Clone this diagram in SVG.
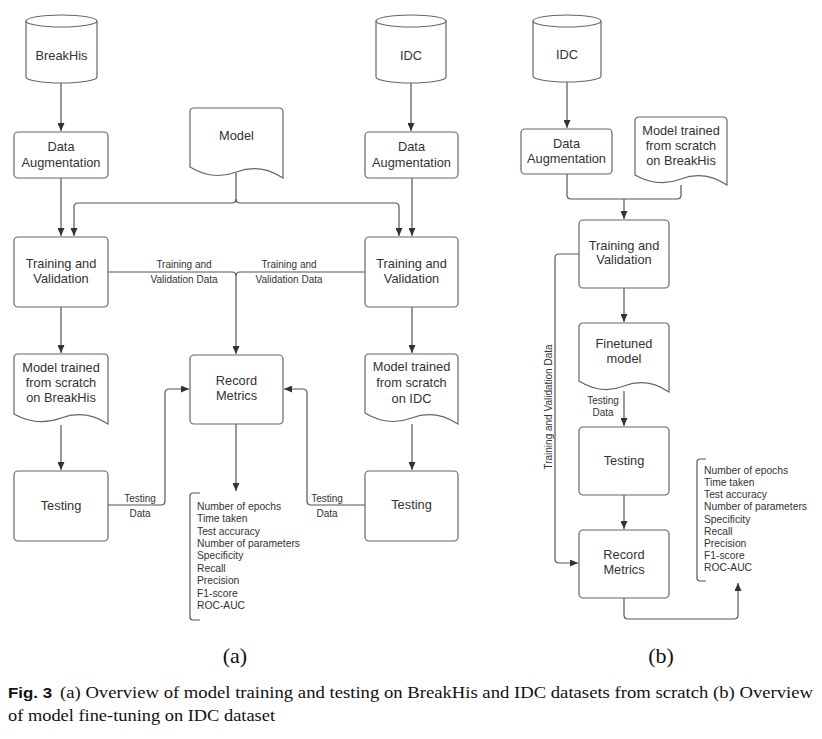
<svg xmlns="http://www.w3.org/2000/svg" width="822" height="739" viewBox="0 0 822 739">
<defs>
<marker id="ah" markerWidth="8" markerHeight="7" refX="8" refY="3.5" orient="auto" markerUnits="userSpaceOnUse"><path d="M0,0 L8,3.5 L0,7 z" fill="#333"/></marker>
<style>
.n{fill:#fff;stroke:#666;stroke-width:1.2}
.t{font-family:"Liberation Sans",Arial,sans-serif;font-size:12.8px;fill:#333;text-anchor:middle}
.l{font-family:"Liberation Sans",Arial,sans-serif;font-size:10px;fill:#333;text-anchor:middle}
.li{font-family:"Liberation Sans",Arial,sans-serif;font-size:10.3px;fill:#333}
.c{fill:none;stroke:#555;stroke-width:1.2}
.a{marker-end:url(#ah)}
.cap{font-family:"Liberation Serif","Times New Roman",serif;fill:#111}
</style>
</defs>
<rect width="822" height="739" fill="#fff"/>

<g id="connectors">
<path class="c a" d="M61,83 V131"/>
<path class="c a" d="M61,178 V236"/>
<path class="c a" d="M236,173 V199 Q236,203 232,203 H78 Q74,203 74,207 V236"/>
<path class="c a" d="M236,199 Q236,203 240,203 H395 Q399,203 399,207 V236"/>
<path class="c a" d="M411,83 V131"/>
<path class="c a" d="M412,178 V236"/>
<path class="c a" d="M108,272 H232 Q236,272 236,276 V354"/>
<path class="c" d="M365,272 H240 Q236,272 236,276"/>
<path class="c a" d="M61,307 V353"/>
<path class="c a" d="M61,425 V470"/>
<path class="c a" d="M412,307 V353"/>
<path class="c a" d="M412,424 V470"/>
<path class="c a" d="M108,505 H161 Q165,505 165,501 V393 Q165,389 169,389 H189"/>
<path class="c a" d="M365,505 H311 Q307,505 307,501 V393 Q307,389 303,389 H284"/>
<path class="c a" d="M236,424 V491"/>
<path class="c" d="M200,493 H193 Q190,493 190,496 V617 Q190,620 193,620 H200"/>

<path class="c a" d="M567,82 V128"/>
<path class="c" d="M567,174 V195 Q567,199 571,199 H624"/>
<path class="c" d="M681,185 V195 Q681,199 677,199 H624"/>
<path class="c a" d="M624,199 V219"/>
<path class="c a" d="M624,288 V322"/>
<path class="c a" d="M624,391 V426"/>
<path class="c a" d="M624,495 V529"/>
<path class="c a" d="M579,254 H559 Q555,254 555,258 V559 Q555,563 559,563 H578"/>
<path class="c a" d="M624,598 V615 Q624,619 628,619 H734 Q738,619 738,615 V583"/>
<path class="c" d="M706,459 H700 Q697,459 697,462 V578 Q697,581 700,581 H706"/>

<text class="l" x="184" y="267.5">Training and</text>
<text class="l" x="184" y="282.5">Validation Data</text>
<text class="l" x="289" y="267.5">Training and</text>
<text class="l" x="289" y="282.5">Validation Data</text>
<text class="l" x="140" y="501.5">Testing</text>
<text class="l" x="140" y="516.5">Data</text>
<text class="l" x="327" y="501.5">Testing</text>
<text class="l" x="327" y="516.5">Data</text>
<text class="l" x="603" y="403.5">Testing</text>
<text class="l" x="603" y="415.5">Data</text>
<text class="l" x="551.5" y="407" transform="rotate(-90 551.5 407)">Training and Validation Data</text>
</g>

<g id="breakhis">
<path class="n" d="M26,21 A35.5,6 0 0 1 97,21 V77 A35.5,6 0 0 1 26,77 Z"/>
<path class="c" style="stroke:#666" d="M26,21 A35.5,6 0 0 0 97,21"/>
<text class="t" x="61.5" y="59.5">BreakHis</text>
</g>
<g id="idc-a">
<path class="n" d="M376,21 A35,6 0 0 1 446,21 V77 A35,6 0 0 1 376,77 Z"/>
<path class="c" style="stroke:#666" d="M376,21 A35,6 0 0 0 446,21"/>
<text class="t" x="411" y="59.5">IDC</text>
</g>
<g id="da-left">
<rect class="n" x="14" y="132" width="94" height="46" rx="4"/>
<text class="t" x="61" y="151">Data</text>
<text class="t" x="61" y="166.5">Augmentation</text>
</g>
<g id="da-right">
<rect class="n" x="365" y="132" width="93" height="46" rx="4"/>
<text class="t" x="411.5" y="151">Data</text>
<text class="t" x="411.5" y="166.5">Augmentation</text>
</g>
<g id="model">
<path class="n" d="M190,112 Q190,108 194,108 H279 Q283,108 283,112 V178 Q260,163 236.5,172 Q213,181 190,167 Z"/>
<text class="t" x="236.5" y="140">Model</text>
</g>
<g id="tv-left">
<rect class="n" x="14" y="237" width="94" height="70" rx="4"/>
<text class="t" x="61" y="267.5">Training and</text>
<text class="t" x="61" y="282.5">Validation</text>
</g>
<g id="tv-right">
<rect class="n" x="365" y="237" width="93" height="70" rx="4"/>
<text class="t" x="411.5" y="267.5">Training and</text>
<text class="t" x="411.5" y="282.5">Validation</text>
</g>
<g id="doc-breakhis">
<path class="n" d="M14,358 Q14,354 18,354 H104 Q108,354 108,358 V424 Q85,409 61,418 Q37,427 14,414 Z"/>
<text class="t" x="61" y="371.5">Model trained</text>
<text class="t" x="61" y="386.5">from scratch</text>
<text class="t" x="61" y="402">on BreakHis</text>
</g>
<g id="doc-idc">
<path class="n" d="M365,358 Q365,354 369,354 H454 Q458,354 458,358 V424 Q435,409 411.5,418 Q388,427 365,413 Z"/>
<text class="t" x="411.5" y="370.5">Model trained</text>
<text class="t" x="411.5" y="386.5">from scratch</text>
<text class="t" x="411.5" y="402.5">on IDC</text>
</g>
<g id="record-a">
<rect class="n" x="190" y="355" width="93" height="69" rx="4"/>
<text class="t" x="236.5" y="384.5">Record</text>
<text class="t" x="236.5" y="399.5">Metrics</text>
</g>
<g id="testing-left">
<rect class="n" x="14" y="471" width="94" height="70" rx="4"/>
<text class="t" x="61" y="509.5">Testing</text>
</g>
<g id="testing-right">
<rect class="n" x="365" y="471" width="93" height="70" rx="4"/>
<text class="t" x="411.5" y="509">Testing</text>
</g>
<g id="metrics-a">
<text class="li" x="197" y="509.7">Number of epochs</text>
<text class="li" x="197" y="522.1">Time taken</text>
<text class="li" x="197" y="534.5">Test accuracy</text>
<text class="li" x="197" y="546.9">Number of parameters</text>
<text class="li" x="197" y="559.3">Specificity</text>
<text class="li" x="197" y="571.7">Recall</text>
<text class="li" x="197" y="584.1">Precision</text>
<text class="li" x="197" y="596.5">F1-score</text>
<text class="li" x="197" y="608.9">ROC-AUC</text>
</g>

<g id="idc-b">
<path class="n" d="M533,21 A34,6 0 0 1 601,21 V76 A34,6 0 0 1 533,76 Z"/>
<path class="c" style="stroke:#666" d="M533,21 A34,6 0 0 0 601,21"/>
<text class="t" x="567" y="58.5">IDC</text>
</g>
<g id="da-b">
<rect class="n" x="521" y="129" width="91" height="45" rx="4"/>
<text class="t" x="566.5" y="147.5">Data</text>
<text class="t" x="566.5" y="162.5">Augmentation</text>
</g>
<g id="doc-b">
<path class="n" d="M635,121 Q635,117 639,117 H723 Q727,117 727,121 V185 Q704,170 681,179 Q658,188 635,175 Z"/>
<text class="t" x="681" y="134.5">Model trained</text>
<text class="t" x="681" y="149.5">from scratch</text>
<text class="t" x="681" y="164.5">on BreakHis</text>
</g>
<g id="tv-b">
<rect class="n" x="579" y="220" width="90" height="68" rx="4"/>
<text class="t" x="624" y="249.5">Training and</text>
<text class="t" x="624" y="264">Validation</text>
</g>
<g id="finetuned">
<path class="n" d="M579,327 Q579,323 583,323 H665 Q669,323 669,327 V392 Q647,377 624,386 Q601,395 579,381 Z"/>
<text class="t" x="624" y="347.5">Finetuned</text>
<text class="t" x="624" y="362.5">model</text>
</g>
<g id="testing-b">
<rect class="n" x="579" y="427" width="90" height="68" rx="4"/>
<text class="t" x="624" y="464.5">Testing</text>
</g>
<g id="record-b">
<rect class="n" x="579" y="530" width="90" height="68" rx="4"/>
<text class="t" x="624" y="558.5">Record</text>
<text class="t" x="624" y="573.5">Metrics</text>
</g>
<g id="metrics-b">
<text class="li" x="704" y="473.7">Number of epochs</text>
<text class="li" x="704" y="485.9">Time taken</text>
<text class="li" x="704" y="498.1">Test accuracy</text>
<text class="li" x="704" y="510.3">Number of parameters</text>
<text class="li" x="704" y="522.5">Specificity</text>
<text class="li" x="704" y="534.7">Recall</text>
<text class="li" x="704" y="546.9">Precision</text>
<text class="li" x="704" y="559.1">F1-score</text>
<text class="li" x="704" y="571.3">ROC-AUC</text>
</g>

<g id="captions">
<text class="cap" x="235" y="663" font-size="22" text-anchor="middle">(a)</text>
<text class="cap" x="661" y="663" font-size="22" text-anchor="middle">(b)</text>
<text x="8" y="698" font-family="'Liberation Sans',Arial,sans-serif" font-weight="bold" font-size="14" fill="#111" textLength="44" lengthAdjust="spacingAndGlyphs">Fig. 3</text>
<text class="cap" x="60" y="698" font-size="17" textLength="753" lengthAdjust="spacingAndGlyphs">(a) Overview of model training and testing on BreakHis and IDC datasets from scratch (b) Overview</text>
<text class="cap" x="8" y="721" font-size="17" textLength="267" lengthAdjust="spacingAndGlyphs">of model fine-tuning on IDC dataset</text>
</g>
</svg>
